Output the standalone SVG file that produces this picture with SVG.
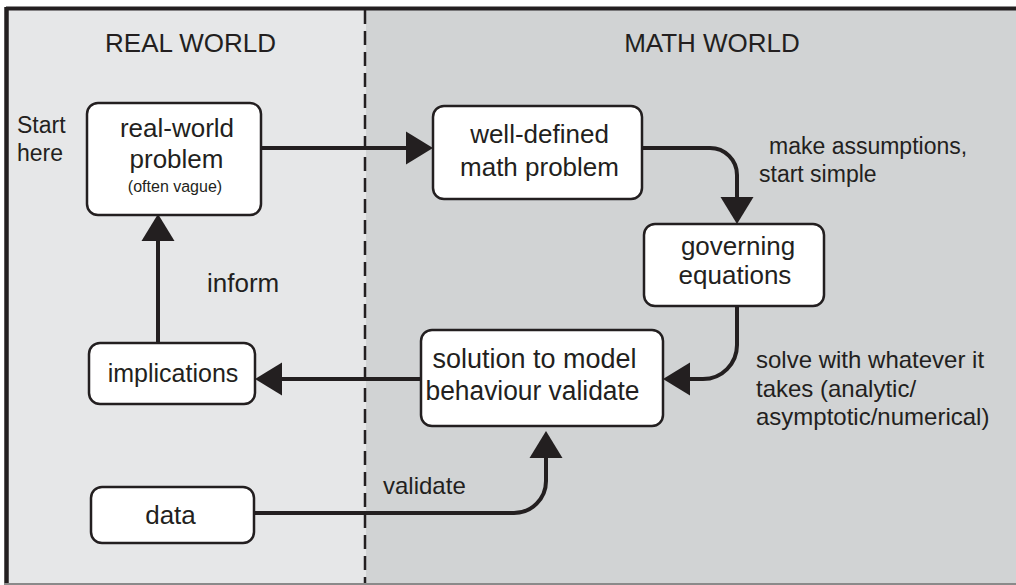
<svg xmlns="http://www.w3.org/2000/svg" width="1016" height="585" viewBox="0 0 1016 585">
<style>
text{font-family:"Liberation Sans",Arial,Helvetica,sans-serif;fill:#231f20}
.node rect{fill:#ffffff;stroke:#231f20;stroke-width:2.5}
.nt{font-size:26px;text-anchor:middle}
.conn path{fill:none;stroke:#231f20;stroke-width:4}
.head{fill:#231f20;stroke:none}
</style>
<defs>
<polygon id="ah" points="0,0 -27,-16.5 -27,16.5"/>
</defs>
<rect x="0" y="0" width="1016" height="585" fill="#ffffff"/>
<rect x="6" y="8" width="360" height="576" fill="#e6e7e8"/>
<rect x="366" y="8" width="660" height="576" fill="#d1d3d4"/>
<line x1="6" y1="8.5" x2="1016" y2="8.5" stroke="#231f20" stroke-width="4"/>
<line x1="6.5" y1="7" x2="6.5" y2="584" stroke="#231f20" stroke-width="4.5"/>
<line x1="4" y1="584" x2="1016" y2="584" stroke="#8a8a8a" stroke-width="2"/>
<line x1="365" y1="10" x2="365" y2="583" stroke="#231f20" stroke-width="2.5" stroke-dasharray="14 7"/>

<text x="190.5" y="52" font-size="26" text-anchor="middle">REAL WORLD</text>
<text x="712" y="52" font-size="26" text-anchor="middle">MATH WORLD</text>
<text x="17" y="133" font-size="23">Start</text>
<text x="17" y="161" font-size="23">here</text>

<g class="conn">
<path d="M261,148 H410"/>
<use href="#ah" class="head" transform="translate(433,148)"/>
<path d="M642,148 H710 A27,27 0 0 1 737,175 V200"/>
<use href="#ah" class="head" transform="translate(737,224) rotate(90)"/>
<path d="M737,306 V345 A34,34 0 0 1 703,379 H688"/>
<use href="#ah" class="head" transform="translate(663,379) rotate(180)"/>
<path d="M421,379 H280"/>
<use href="#ah" class="head" transform="translate(255,379) rotate(180)"/>
<path d="M158,343 V238"/>
<use href="#ah" class="head" transform="translate(158,214) rotate(-90)"/>
<path d="M254,513 H514 A32,32 0 0 0 546,481 V455"/>
<use href="#ah" class="head" transform="translate(546,431) rotate(-90)"/>
</g>

<g id="node-real-world" class="node">
<rect x="87" y="103" width="174" height="112" rx="11"/>
<text class="nt" x="177" y="137">real-world</text>
<text class="nt" x="176.5" y="168">problem</text>
<text x="175" y="192" font-size="16" text-anchor="middle">(often vague)</text>
</g>
<g id="node-math-problem" class="node">
<rect x="433" y="106" width="209" height="93" rx="11"/>
<text class="nt" x="539.5" y="143">well-defined</text>
<text class="nt" x="539.5" y="176">math problem</text>
</g>
<g id="node-governing" class="node">
<rect x="644" y="224" width="180" height="82" rx="11"/>
<text class="nt" x="738" y="255">governing</text>
<text class="nt" x="735" y="284">equations</text>
</g>
<g id="node-solution" class="node">
<rect x="421" y="330" width="242" height="96" rx="11"/>
<text x="432.5" y="368" font-size="27">solution to model</text>
<text x="425.5" y="400" font-size="27" textLength="214" lengthAdjust="spacingAndGlyphs">behaviour validate</text>
</g>
<g id="node-implications" class="node">
<rect x="89" y="343" width="166" height="61" rx="11"/>
<text class="nt" x="173" y="382" font-size="25" style="font-size:25px">implications</text>
</g>
<g id="node-data" class="node">
<rect x="91" y="487" width="163" height="56" rx="11"/>
<text class="nt" x="170.5" y="524">data</text>
</g>

<text x="207" y="292" font-size="26">inform</text>
<text x="383" y="494" font-size="24">validate</text>
<text x="769" y="153.5" font-size="23">make assumptions,</text>
<text x="759" y="182" font-size="23">start simple</text>
<text x="756" y="368" font-size="24">solve with whatever it</text>
<text x="756" y="397" font-size="24">takes (analytic/</text>
<text x="756" y="425" font-size="24">asymptotic/numerical)</text>
</svg>
